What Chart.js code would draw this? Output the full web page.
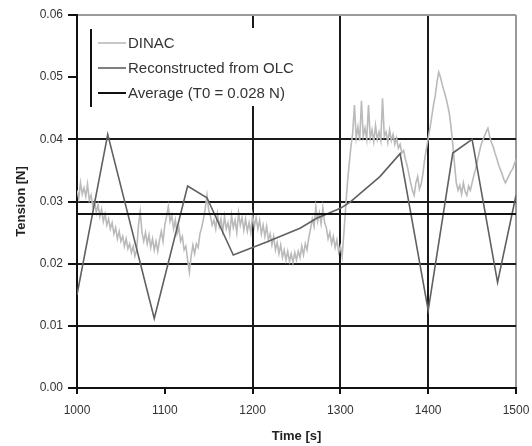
<!DOCTYPE html>
<html>
<head>
<meta charset="utf-8">
<script src="https://cdn.jsdelivr.net/npm/chart.js@4.4.0/dist/chart.umd.min.js"></script>
<style>
  html, body { margin: 0; padding: 0; background: #fff; }
  #wrap { width: 532px; height: 446px; }
</style>
</head>
<body>
<div id="wrap"><canvas id="tensionChart" width="532" height="446"></canvas></div>
<script>
/*
* données
*/
// mesure DINAC : un échantillon toutes les 2 s à partir de t = 1000 s (tension en N)
const dinacStart = 1000;
const dinacStep = 2;
const dinacTension = [
  0.0318, 0.0305, 0.0330, 0.0312, 0.0322, 0.0308, 0.0328, 0.0302, 0.0310, 0.0292, 0.0300,
  0.0282, 0.0295, 0.0276, 0.0288, 0.0268, 0.0280, 0.0262, 0.0272, 0.0256, 0.0266,
  0.0248, 0.0258, 0.0240, 0.0252, 0.0236, 0.0244, 0.0228, 0.0240, 0.0224, 0.0232, 0.0218, 0.0228, 0.0212, 0.0222,
  0.0262, 0.0284, 0.0250,
  0.0236, 0.0250, 0.0232, 0.0246, 0.0226, 0.0240, 0.0222, 0.0236, 0.0220, 0.0238,
  0.0252, 0.0236, 0.0262, 0.0276, 0.0292, 0.0268, 0.0278, 0.0256, 0.0270, 0.0248,
  0.0258, 0.0236, 0.0244, 0.0222, 0.0228, 0.0206, 0.0186, 0.0212, 0.0230, 0.0216,
  0.0232, 0.0226, 0.0248, 0.0258, 0.0272, 0.0288, 0.0310, 0.0286, 0.0276, 0.0262,
  0.0270, 0.0256, 0.0280, 0.0260, 0.0272, 0.0252, 0.0276, 0.0256, 0.0266, 0.0248,
  0.0278, 0.0258, 0.0270, 0.0250, 0.0282, 0.0262, 0.0274, 0.0254, 0.0272, 0.0252,
  0.0266, 0.0250, 0.0278, 0.0260, 0.0274, 0.0256, 0.0270, 0.0248, 0.0262, 0.0244,
  0.0260, 0.0238, 0.0248, 0.0230, 0.0244, 0.0222, 0.0234, 0.0216, 0.0230, 0.0210,
  0.0222, 0.0206, 0.0220, 0.0204, 0.0216, 0.0202, 0.0218, 0.0206, 0.0220, 0.0210,
  0.0228, 0.0214, 0.0232, 0.0222, 0.0242, 0.0256, 0.0272, 0.0260, 0.0292, 0.0268,
  0.0282, 0.0264, 0.0290, 0.0266, 0.0258, 0.0240, 0.0250, 0.0232, 0.0244, 0.0226,
  0.0238, 0.0218, 0.0228, 0.0212, 0.0250, 0.0290, 0.0330, 0.0360, 0.0388, 0.0410,
  0.0455, 0.0402, 0.0420, 0.0398, 0.0462, 0.0405, 0.0418, 0.0400, 0.0455, 0.0402,
  0.0415, 0.0396, 0.0422, 0.0400, 0.0412, 0.0398, 0.0466, 0.0405, 0.0412, 0.0395,
  0.0415, 0.0398, 0.0408, 0.0392, 0.0402, 0.0386, 0.0392, 0.0378, 0.0382, 0.0368,
  0.0358, 0.0344, 0.0330, 0.0318, 0.0310, 0.0330, 0.0340, 0.0320, 0.0328, 0.0345,
  0.0368, 0.0385, 0.0402, 0.0418, 0.0436, 0.0455, 0.0470, 0.0492, 0.0508, 0.0500,
  0.0488, 0.0478, 0.0468, 0.0456, 0.0442, 0.0420, 0.0392, 0.0360, 0.0330, 0.0318,
  0.0326, 0.0312, 0.0330, 0.0316, 0.0310, 0.0325, 0.0318, 0.0330, 0.0342, 0.0352,
  0.0365, 0.0378, 0.0390, 0.0398, 0.0405, 0.0412, 0.0418, 0.0405, 0.0395, 0.0388,
  0.0378, 0.0370, 0.0360, 0.0352, 0.0345, 0.0336, 0.0330, 0.0336, 0.0342, 0.0348,
  0.0352, 0.0360, 0.0368
];

// tension reconstituée depuis OLC
const olcTime    = [1000, 1035, 1088, 1126, 1148, 1178, 1216, 1254, 1273, 1300, 1311, 1345, 1368, 1400, 1428, 1450, 1479, 1500];
const olcTension = [0.0150, 0.0408, 0.0112, 0.0325, 0.0306, 0.0214, 0.0235, 0.0257, 0.0273, 0.0289, 0.0299, 0.0340, 0.0377, 0.0125, 0.0378, 0.0400, 0.0170, 0.0310];

// tension moyenne T0
const avgTension = 0.028;

const xTicks = [1000, 1100, 1200, 1300, 1400, 1500];
const yTicks = [0.00, 0.01, 0.02, 0.03, 0.04, 0.05, 0.06];

const labels = ['DINAC', 'Reconstructed from OLC', `Average (T0 = ${avgTension.toFixed(3)} N)`];

const FONT = '"Liberation Sans", Arial, sans-serif';

// légende en haut à gauche, fond blanc + trait vertical à gauche
const boxLegend = {
  id: 'boxLegend',
  afterDraw(chart) {
    const ctx = chart.ctx;
    ctx.save();
    ctx.fillStyle = '#fff';
    ctx.fillRect(92, 28, 216, 78);
    ctx.strokeStyle = '#111';
    ctx.lineWidth = 2;
    ctx.beginPath();
    ctx.moveTo(91, 29);
    ctx.lineTo(91, 107);
    ctx.stroke();

    ctx.font = '15px ' + FONT;
    ctx.textBaseline = 'middle';
    chart.data.datasets.forEach((ds, i) => {
      const y = 43 + i * 25;
      ctx.strokeStyle = ds.borderColor;
      ctx.lineWidth = ds.borderWidth;
      ctx.beginPath();
      ctx.moveTo(98, y);
      ctx.lineTo(126, y);
      ctx.stroke();
      ctx.fillStyle = '#333';
      ctx.fillText(ds.label, 128, y + 1);
    });
    ctx.restore();
  }
};

const ctx = document.getElementById('tensionChart').getContext('2d');
const chart = new Chart(ctx, {
  type: 'line',
  data: {
    datasets: [
      {
        label: labels[0],
        data: dinacTension.map((v, i) => ({ x: dinacStart + i * dinacStep, y: v })),
        borderColor: '#bababa',
        borderWidth: 1.6,
        pointRadius: 0,
        tension: 0,
        order: 2
      },
      {
        label: labels[1],
        data: olcTime.map((t, i) => ({ x: t, y: olcTension[i] })),
        borderColor: '#606060',
        borderWidth: 1.6,
        pointRadius: 0,
        tension: 0,
        order: 1
      },
      {
        label: labels[2],
        data: [{ x: xTicks[0], y: avgTension }, { x: xTicks[xTicks.length - 1], y: avgTension }],
        borderColor: '#111',
        borderWidth: 2,
        pointRadius: 0,
        order: 0
      }
    ]
  },
  options: {
    responsive: false,
    devicePixelRatio: 1,
    animation: false,
    layout: { padding: { left: 0, top: 15, right: 16, bottom: 2 } },
    plugins: {
      legend: { display: false },
      tooltip: { enabled: false }
    },
    scales: {
      x: {
        type: 'linear',
        min: xTicks[0],
        max: xTicks[xTicks.length - 1],
        afterBuildTicks: (scale) => { scale.ticks = xTicks.map(v => ({ value: v })); },
        afterFit: (scale) => {
          scale.height = 56;
          scale.paddingLeft = 0;
          scale.paddingRight = 0;
        },
        border: { color: '#111', width: 2 },
        grid: {
          color: (c) => {
            const v = c.tick ? c.tick.value : null;
            if (v === 1500) return '#9a9a9a';
            if (v === 1200 || v === 1300 || v === 1400) return '#1a1a1a';
            return 'rgba(0,0,0,0)';
          },
          lineWidth: 2,
          tickColor: '#111',
          tickLength: 6
        },
        ticks: {
          color: '#333',
          padding: 9,
          font: { family: FONT, size: 12 },
          maxRotation: 0,
          callback: (v) => String(v)
        },
        title: {
          display: true,
          text: 'Time [s]',
          color: '#222',
          font: { family: FONT, size: 13, weight: 'bold' },
          padding: { top: 4, bottom: 0 }
        }
      },
      y: {
        min: yTicks[0],
        max: yTicks[yTicks.length - 1],
        afterBuildTicks: (scale) => { scale.ticks = yTicks.map(v => ({ value: v })); },
        afterFit: (scale) => { scale.width = 77; },
        border: { color: '#111', width: 2 },
        grid: {
          color: (c) => {
            const v = c.tick ? Math.round(c.tick.value * 100) : null;
            if (v === 6) return '#9a9a9a';
            if (v === 5) return 'rgba(0,0,0,0)';
            return '#1a1a1a';
          },
          lineWidth: 2,
          tickColor: '#111',
          tickLength: 9
        },
        ticks: {
          color: '#333',
          padding: 5,
          font: { family: FONT, size: 12 },
          callback: (v) => v.toFixed(2)
        },
        title: {
          display: true,
          text: 'Tension [N]',
          color: '#222',
          font: { family: FONT, size: 13, weight: 'bold' },
          padding: { top: 14, bottom: 0 }
        }
      }
    }
  },
  plugins: [boxLegend]
});
</script>
</body>
</html>
